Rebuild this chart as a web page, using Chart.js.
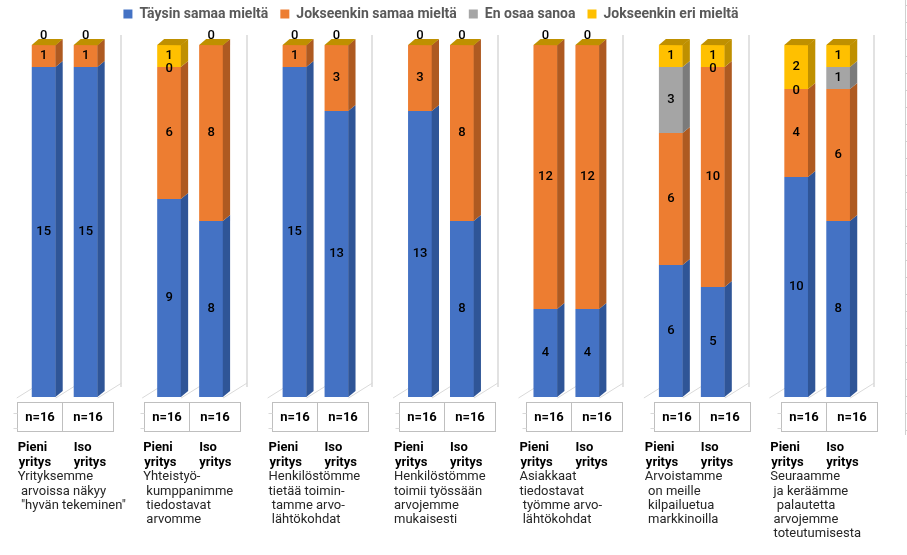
<!DOCTYPE html>
<html><head><meta charset="utf-8">
<script src="https://cdn.jsdelivr.net/npm/chart.js@4/dist/chart.umd.min.js"></script>
<style>html,body{margin:0;padding:0;background:#fff}#wrap{width:907px;height:555px;position:relative}</style>
</head><body><div id="wrap"><canvas id="c" width="907" height="555"></canvas></div>
<script>
// ---- data ----
const categories = ["G1","G2","G3","G4","G5","G6","G7"];
const descriptions = [
  ["Yrityksemme"," arvoissa näkyy"," \"hyvän tekeminen\""],
  ["Yhteistyö-"," kumppanimme"," tiedostavat"," arvomme"],
  ["Henkilöstömme","tietää toimin-"," tamme arvo-"," lähtökohdat"],
  ["Henkilöstömme","toimii työssään","arvojemme","mukaisesti"],
  ["Asiakkaat","tiedostavat"," työmme arvo-"," lähtökohdat"],
  ["Arvoistamme"," on meille"," kilpailuetua"," markkinoilla"],
  ["Seuraamme"," ja keräämme","  palautetta"," arvojemme"," toteutumisesta"]
];
const subLabels = [["Pieni","yritys"],["Iso","yritys"]];
const nLabels = ["n=16","n=16","n=16","n=16","n=16","n=16","n=16"];
const seriesNames = ["Täysin samaa mieltä","Jokseenkin samaa mieltä","En osaa sanoa","Jokseenkin eri mieltä"];

const pieniTaysin      = [15, 9, 15, 13,  4,  6, 10];
const pieniJokseenkin  = [ 1, 6,  1,  3, 12,  6,  4];
const pieniEnOsaa      = [ 0, 0,  0,  0,  0,  3,  0];
const pieniEri         = [ 0, 1,  0,  0,  0,  1,  2];
const isoTaysin        = [15, 8, 13,  8,  4,  5,  8];
const isoJokseenkin    = [ 1, 8,  3,  8, 12, 10,  6];
const isoEnOsaa        = [ 0, 0,  0,  0,  0,  0,  1];
const isoEri           = [ 0, 0,  0,  0,  0,  1,  1];

// ---- styles ----
const frontColors = ["#4472C4","#ED7D31","#A5A5A5","#FFC000"];
const sideColors  = ["#2F5597","#AE5A21","#7B7B7B","#BF9000"];
const topColor = "#BF9000";
const DX = 7, DY = -6;

const pieniSeries = [pieniTaysin, pieniJokseenkin, pieniEnOsaa, pieniEri];
const isoSeries = [isoTaysin, isoJokseenkin, isoEnOsaa, isoEri];

const datasets = [];
pieniSeries.forEach((d,s)=>datasets.push({label:seriesNames[s], data:d, stack:'pieni', backgroundColor:frontColors[s], borderWidth:0}));
isoSeries.forEach((d,s)=>datasets.push({label:seriesNames[s], data:d, stack:'iso', backgroundColor:frontColors[s], borderWidth:0}));

Chart.defaults.font.family = "Roboto";

const legendSpace = {
  id:'legendSpace',
  afterInit(chart){
    const lg = chart.legend;
    if(!lg) return;
    const fit = lg.fit;
    lg.fit = function(){ fit.call(this); this.height += 14; };
  },
  afterLayout(chart){
    const lg = chart.legend;
    if(!lg) return;
    lg.left -= 10; lg.right -= 10;
  }
};

const deco = {
  id:'deco',
  beforeDatasetsDraw(chart){
    const ctx = chart.ctx, x = chart.scales.x, area = chart.chartArea;
    const half = (x.getPixelForValue(1)-x.getPixelForValue(0))/2;
    ctx.save();
    ctx.strokeStyle = '#d9d9d9'; ctx.lineWidth = 1.5;
    for(let i=0;i<categories.length;i++){
      const sx = Math.round(x.getPixelForValue(i)+half-6);
      ctx.beginPath(); ctx.moveTo(sx, area.top-10); ctx.lineTo(sx, area.bottom-10); ctx.stroke();
    }
    ctx.lineWidth = 1;
    for(let i=0;i<categories.length;i++){
      const p = chart.getDatasetMeta(0).data[i], q = chart.getDatasetMeta(4).data[i];
      const starts = [p.x-p.width/2-15, p.x+p.width/2, q.x+q.width/2];
      starts.forEach(a=>{ ctx.beginPath(); ctx.moveTo(a, area.bottom+1); ctx.lineTo(a+24, area.bottom-14); ctx.stroke(); });
    }
    ctx.strokeStyle = '#d0d0d0';
    ctx.beginPath(); ctx.moveTo(905.5,0); ctx.lineTo(905.5,435); ctx.stroke();
    for(let y=5;y<435;y+=17){ ctx.beginPath(); ctx.moveTo(905,y+0.5); ctx.lineTo(907,y+0.5); ctx.stroke(); }
    ctx.restore();
  },
  afterDatasetsDraw(chart){
    const ctx = chart.ctx;
    ctx.save();
    [0,4].forEach(start=>{
      for(let i=0;i<categories.length;i++){
        let topY = Infinity, left=0, right=0;
        for(let s=0;s<4;s++){
          const el = chart.getDatasetMeta(start+s).data[i];
          const r = el.x+el.width/2; left = el.x-el.width/2; right = r;
          const yT = el.y, yB = el.base;
          if(yB-yT>0.5){
            ctx.fillStyle = sideColors[s];
            ctx.beginPath(); ctx.moveTo(r-0.3,yB); ctx.lineTo(r+DX,yB+DY); ctx.lineTo(r+DX,yT+DY); ctx.lineTo(r-0.3,yT); ctx.closePath(); ctx.fill();
          }
          topY = Math.min(topY, yT);
        }
        ctx.fillStyle = topColor;
        ctx.beginPath(); ctx.moveTo(left,topY); ctx.lineTo(left+DX,topY+DY); ctx.lineTo(right+DX,topY+DY); ctx.lineTo(right,topY+0.3); ctx.closePath(); ctx.fill();
      }
    });
    ctx.font = "500 13px Roboto";
    ctx.fillStyle = "#000";
    ctx.textAlign = "center"; ctx.textBaseline = "middle";
    const seen = new Set();
    for(let d=0; d<8; d++){
      const s = d%4, base = d<4?0:4;
      const ds = chart.data.datasets[d];
      const meta = chart.getDatasetMeta(d);
      for(let i=0;i<categories.length;i++){
        const v = ds.data[i], el = meta.data[i];
        let y;
        if(v>0){ y = (el.y+el.base)/2; }
        else{
          let restZero = true;
          for(let k=s;k<4;k++){ if(chart.data.datasets[base+k].data[i]>0) restZero=false; }
          y = restZero ? el.y-9 : el.y+2;
        }
        const key = (d<4?'p':'i')+i+'_'+Math.round(y);
        if(v===0 && seen.has(key)) continue;
        seen.add(key);
        ctx.fillText(String(v), el.x, y);
      }
    }
    ctx.restore();
  },
  afterDraw(chart){
    const ctx = chart.ctx, x = chart.scales.x, area = chart.chartArea;
    const b = area.bottom;
    ctx.save();
    for(let i=0;i<categories.length;i++){
      const c = x.getPixelForValue(i);
      const cx = c + i*2;
      const boxL = Math.round(cx-48)+0.5, boxT = Math.round(b+5)+0.5, W=96, H=29;
      ctx.strokeStyle = '#bfbfbf'; ctx.lineWidth = 1;
      ctx.strokeRect(boxL, boxT, W, H);
      ctx.beginPath(); ctx.moveTo(boxL+45, boxT); ctx.lineTo(boxL+45, boxT+H); ctx.stroke();
      ctx.strokeStyle = '#d9d9d9';
      [11,26].forEach(o=>{ ctx.beginPath(); ctx.moveTo(boxL-4, boxT+o); ctx.lineTo(boxL, boxT+o); ctx.stroke(); });
      ctx.fillStyle = '#000'; ctx.font = "bold 13px Roboto";
      ctx.textAlign = 'center'; ctx.textBaseline = 'middle';
      ctx.fillText(nLabels[i], boxL+22.5, boxT+H/2+0.5);
      ctx.fillText(nLabels[i], boxL+45+25.5, boxT+H/2+0.5);
      ctx.textAlign = 'left';
      const px = c-47, ix = c+9;
      const y0 = b+51;
      ctx.fillText(subLabels[0][0], px, y0);
      ctx.fillText(subLabels[0][1], px+1, y0+14.5);
      ctx.fillText(subLabels[1][0], ix, y0);
      ctx.fillText(subLabels[1][1], ix, y0+14.5);
      ctx.font = "13px Roboto"; ctx.fillStyle = '#262626';
      descriptions[i].forEach((t,k)=>ctx.fillText(t, px, y0+29+k*14.3));
    }
    ctx.restore();
  }
};

new Chart(document.getElementById('c'), {
  type:'bar',
  data:{ labels:categories, datasets },
  options:{
    responsive:false, animation:false,
    layout:{ padding:{ left:2, right:27, top:-5, bottom:158 } },
    datasets:{ bar:{ categoryPercentage:0.669, barPercentage:0.571 } },
    scales:{
      x:{ display:false, stacked:true },
      y:{ display:false, stacked:true, min:0, max:16 }
    },
    plugins:{
      tooltip:{ enabled:false },
      legend:{
        position:'top',
        labels:{
          filter:(item)=>item.datasetIndex<4,
          boxWidth:9, boxHeight:9, padding:12,
          color:'#595959',
          font:{ size:14, weight:'bold', family:'Roboto' }
        }
      }
    }
  },
  plugins:[legendSpace, deco]
});
</script></body></html>
